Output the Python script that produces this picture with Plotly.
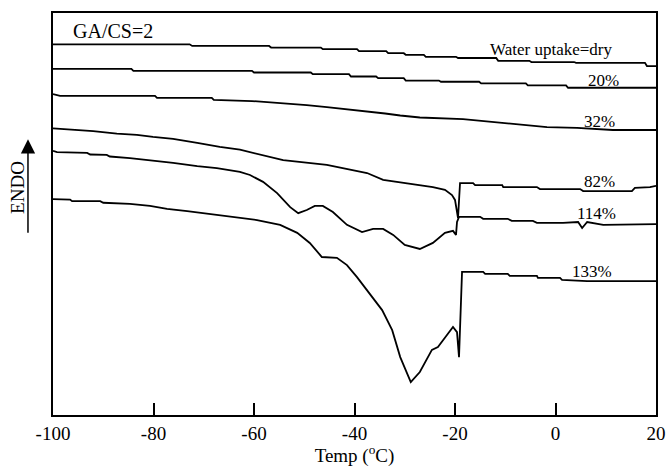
import plotly.graph_objects as go

# DSC heating scans of GA/CS=2 samples at different water uptakes
# temperature in degC, heat flow in arbitrary units (endo up)

dry_t = [-100, -72.8, -72.3, -57.0, -56.6, -46.7, -46.3, -39.5, -39.1, -33.7, -33.3, -30.2, -29.8,
         -26.2, -25.8, -19.8, -19.4, -11.8, -11.4, -5.2, -4.8, 3.7, 4.1, 17.8, 18.2, 20]
dry_h = [9.22, 9.22, 9.18, 9.18, 9.14, 9.14, 9.10, 9.10, 9.05, 9.05, 9.00, 9.00, 8.96,
         8.96, 8.91, 8.91, 8.88, 8.88, 8.81, 8.81, 8.78, 8.78, 8.76, 8.76, 8.68, 8.68]

w20_t = [-100, -84.4, -84.0, -60.4, -60.0, -48.7, -48.3, -41.1, -40.7, -35.7, -35.3, -30.2, -29.8,
         -23.2, -22.8, -15.2, -14.8, -5.9, -5.5, 2.1, 2.5, 20]
w20_h = [8.61, 8.61, 8.56, 8.56, 8.52, 8.52, 8.48, 8.48, 8.42, 8.42, 8.38, 8.38, 8.32,
         8.32, 8.29, 8.29, 8.25, 8.25, 8.20, 8.20, 8.14, 8.14]

w32_t = [-100, -98.6, -79.7, -79.3, -68.4, -68.0, -60.4, -54.4, -49.5, -45.5, -42.3, -39.5,
         -35.9, -33.9, -30.9, -27.0, -18.4, -13.0, -7.7, -1.7, 4.3, 11.4, 20]
w32_h = [7.98, 7.94, 7.94, 7.89, 7.89, 7.84, 7.81, 7.76, 7.71, 7.66, 7.62, 7.58,
         7.54, 7.50, 7.45, 7.40, 7.36, 7.29, 7.24, 7.16, 7.14, 7.09, 7.09]

w82_t = [-100, -92.0, -87.3, -83.3, -80.1, -76.1, -71.3, -66.8, -62.8, -54.2, -45.5, -37.5,
         -34.3, -27.6, -24.4, -22.0, -20.6, -20.0, -19.6, -19.4, -19.0, -16.4, -16.0, -10.6,
         -10.4, -3.7, -3.1, 4.9, 5.5, 15.2, 15.8, 18.8, 20]
w82_h = [7.13, 7.06, 7.00, 6.97, 6.92, 6.87, 6.77, 6.67, 6.60, 6.34, 6.22, 6.02,
         5.85, 5.72, 5.67, 5.60, 5.47, 5.35, 5.05, 4.90, 5.77, 5.77, 5.72, 5.72,
         5.67, 5.67, 5.62, 5.62, 5.57, 5.57, 5.65, 5.67, 5.70]

w114_t = [-100, -99.2, -93.2, -92.6, -89.3, -88.7, -84.7, -80.7, -76.1, -71.3, -67.4, -62.8,
          -60.8, -58.2, -55.4, -52.8, -51.2, -49.5, -47.9, -46.3, -44.3, -41.5, -38.5, -36.3,
          -34.3, -32.3, -30.0, -27.0, -24.4, -22.0, -20.4, -19.8, -19.6, -19.2, -15.0, -14.4,
          -9.5, -8.7, -4.5, -3.7, 1.5, 4.5, 5.3, 6.3, 8.9, 9.5, 20]
w114_h = [6.57, 6.54, 6.52, 6.48, 6.47, 6.43, 6.39, 6.34, 6.27, 6.19, 6.14, 6.05,
          5.97, 5.80, 5.52, 5.17, 5.02, 5.10, 5.20, 5.20, 5.05, 4.73, 4.55, 4.63,
          4.63, 4.48, 4.23, 4.13, 4.28, 4.53, 4.58, 4.48, 4.80, 4.93, 4.93, 4.88,
          4.88, 4.83, 4.83, 4.78, 4.78, 4.80, 4.65, 4.80, 4.75, 4.73, 4.75]

w133_t = [-100, -96.6, -96.2, -90.6, -90.0, -84.7, -80.7, -77.3, -73.3, -69.4, -66.2, -62.8,
          -59.4, -54.8, -51.4, -48.9, -46.5, -43.5, -41.5, -39.5, -37.5, -34.5, -32.5, -30.9,
          -28.8, -27.0, -24.6, -23.4, -21.6, -20.4, -19.6, -19.2, -18.6, -14.4, -14.0, -9.5,
          -9.1, -3.7, -3.5, 0.9, 1.3, 6.3, 20]
w133_h = [5.37, 5.36, 5.32, 5.32, 5.28, 5.25, 5.20, 5.13, 5.07, 5.01, 4.95, 4.91,
          4.85, 4.73, 4.53, 4.28, 3.93, 3.91, 3.73, 3.43, 3.11, 2.61, 2.11, 1.44,
          0.82, 1.07, 1.62, 1.69, 1.99, 2.19, 2.06, 1.44, 3.56, 3.56, 3.51, 3.51,
          3.46, 3.46, 3.41, 3.41, 3.36, 3.33, 3.33]

series_t = [dry_t, w20_t, w32_t, w82_t, w114_t, w133_t]
series_h = [dry_h, w20_h, w32_h, w82_h, w114_h, w133_h]

# curve labels: text, temperature, heat-flow position
label_text = ["Water uptake=dry", "20%", "32%", "82%", "114%", "133%"]
label_t = [-0.9, 9.6, 8.8, 8.8, 8.1, 7.3]
label_h = [9.08, 8.33, 7.31, 5.80, 5.02, 3.58]

x_ticks = [-100, -80, -60, -40, -20, 0, 20]

FONT = "Liberation Serif"

fig = go.Figure()
for t, h in zip(series_t, series_h):
    fig.add_trace(go.Scatter(x=t, y=h, mode="lines",
                             line=dict(color="black", width=1.8),
                             showlegend=False, hoverinfo="skip"))

for txt, t, h in zip(label_text, label_t, label_h):
    fig.add_annotation(x=t, y=h, text=txt, showarrow=False,
                       xanchor="center", yanchor="middle",
                       font=dict(family=FONT, size=17, color="black"))

fig.add_annotation(x=0.0995, y=0.955, xref="paper", yref="paper",
                   text="GA/CS=2", showarrow=False, xanchor="center", yanchor="middle",
                   font=dict(family=FONT, size=20, color="black"))

# ENDO direction arrow
fig.add_annotation(x=-0.0415, y=0.686, xref="paper", yref="paper",
                   ax=0, ay=95, text="", showarrow=True,
                   arrowhead=2, arrowsize=1.9, arrowwidth=1.5, arrowcolor="black")
fig.add_annotation(x=-0.058, y=0.565, xref="paper", yref="paper",
                   text="ENDO", showarrow=False, textangle=-90,
                   xanchor="center", yanchor="middle",
                   font=dict(family=FONT, size=19, color="black"))

fig.update_layout(
    width=667, height=467,
    margin=dict(l=53, r=11, t=13, b=52, autoexpand=False),
    paper_bgcolor="white", plot_bgcolor="white",
    font=dict(family=FONT, color="black"),
)
fig.update_xaxes(
    range=[-100, 20], tickvals=x_ticks, ticktext=[str(v) for v in x_ticks],
    ticks="inside", ticklen=12, tickwidth=1.8, tickcolor="black",
    showline=True, linewidth=2, linecolor="black", mirror=True,
    showgrid=False, zeroline=False, automargin=False,
    tickfont=dict(family=FONT, size=19, color="black"),
    title=dict(text="Temp (<sup>o</sup>C)", font=dict(family=FONT, size=19, color="black"),
               standoff=2),
)
fig.update_yaxes(
    range=[0, 10], showticklabels=False, ticks="",
    showline=True, linewidth=2, linecolor="black", mirror=True,
    showgrid=False, zeroline=False, automargin=False,
)

fig.write_html("out.html")
